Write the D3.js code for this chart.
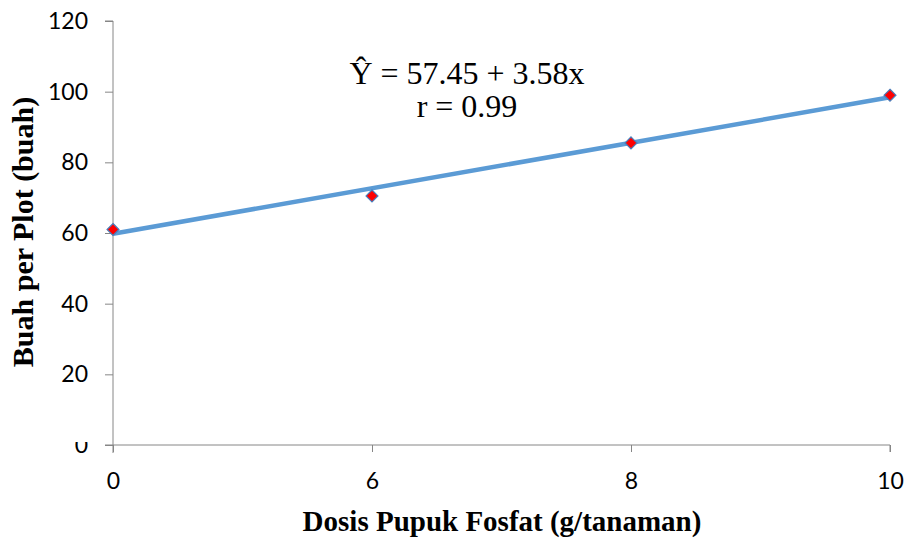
<!DOCTYPE html>
<html><head><meta charset="utf-8">
<script src="https://cdn.jsdelivr.net/npm/d3@7"></script>
<style>body{margin:0;background:#fff}</style>
</head><body>
<svg id="c" width="908" height="538"></svg>
<script>
const categories = ["0", "6", "8", "10"];
const values = [61, 70.5, 85.5, 99];
const trendValues = [59.8, 98.4];
const yTicks = [0, 20, 40, 60, 80, 100, 120];
const equationLines = ["\u0176 = 57.45 + 3.58x", "r = 0.99"];
const xTitle = "Dosis Pupuk Fosfat (g/tanaman)";
const yTitle = "Buah per Plot (buah)";

const svg = d3.select("#c");
const L = 113, R = 890, T = 21, B = 445;
const x = d3.scalePoint().domain(categories).range([L, R]);
const y = d3.scaleLinear().domain([0, 120]).range([B, T]);
const axisColor = "#868686";
const tickFont = "Lato, 'Open Sans', sans-serif";

// Y axis
const ya = svg.append("g").attr("transform", `translate(${L},0)`)
  .call(d3.axisLeft(y).tickValues(yTicks).tickSize(8).tickPadding(17).tickFormat(d3.format("d")));
ya.select(".domain").attr("stroke", axisColor).attr("d", `M-8,${T}H0V${B + 8}`);
ya.selectAll(".tick line").attr("stroke", axisColor);
ya.selectAll(".tick text").attr("font-family", tickFont).attr("font-size", 23).attr("fill", "#000");

// X axis
const xa = svg.append("g").attr("transform", `translate(0,${B})`)
  .call(d3.axisBottom(x).tickSize(7).tickPadding(21));
xa.select(".domain").attr("stroke", axisColor).attr("d", `M${L - 8},0H${R}V7`);
xa.selectAll(".tick line").attr("stroke", axisColor);
xa.selectAll(".tick text").attr("font-family", tickFont).attr("font-size", 23).attr("fill", "#000");

// cover top of y "0" label (clipped in reference)
svg.append("rect").attr("x", 60).attr("y", 420).attr("width", 40).attr("height", 22).attr("fill", "#fff");

// Trend line
const first = categories[0], last = categories[categories.length - 1];
svg.append("line")
  .attr("x1", x(first)).attr("y1", y(trendValues[0]))
  .attr("x2", x(last)).attr("y2", y(trendValues[1]))
  .attr("stroke", "#5B9BD5").attr("stroke-width", 4.5).attr("stroke-linecap", "butt");

// Markers
svg.selectAll(".pt").data(values).join("path")
  .attr("class", "pt")
  .attr("d", d3.symbol(d3.symbolDiamond2, 90)())
  .attr("transform", (d, i) => `translate(${x(categories[i])},${y(d)})`)
  .attr("fill", "#FF0000").attr("stroke", "#4A7EBB").attr("stroke-width", 1.2);

// Equation
svg.selectAll(".eq").data(equationLines).join("text")
  .attr("x", 467).attr("y", (d, i) => 84 + i * 33)
  .attr("text-anchor", "middle")
  .attr("font-family", "'Liberation Serif', 'Times New Roman', serif")
  .attr("font-size", 32).text(d => d);

// Titles
svg.append("text").attr("x", 502).attr("y", 531).attr("text-anchor", "middle")
  .attr("font-family", "'Liberation Serif', 'Times New Roman', serif")
  .attr("font-weight", "bold").attr("font-size", 29).text(xTitle);
svg.append("text").attr("transform", "translate(33,232) rotate(-90)").attr("text-anchor", "middle")
  .attr("font-family", "'Liberation Serif', 'Times New Roman', serif")
  .attr("font-weight", "bold").attr("font-size", 30).text(yTitle);
</script>
</body></html>
